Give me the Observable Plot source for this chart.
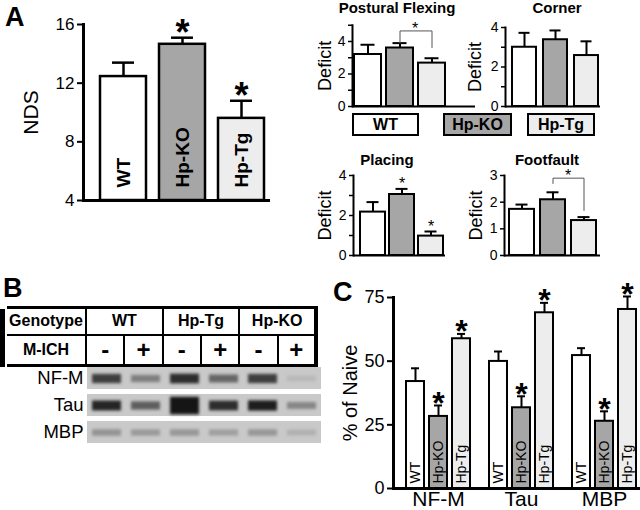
<!DOCTYPE html>
<html><head><meta charset="utf-8">
<script src="https://cdn.jsdelivr.net/npm/d3@7"></script>
<script src="https://cdn.jsdelivr.net/npm/@observablehq/plot@0.6"></script>
<style>
body{margin:0;background:#fff;}
#root{position:relative;width:640px;height:510px;overflow:hidden;font-family:"Liberation Sans",Arial,Helvetica,sans-serif;color:#000;background:#fff;}
#root svg{position:absolute;left:0;top:0;}
#tbl{position:absolute;left:7px;top:306px;width:311px;height:61px;border-collapse:collapse;table-layout:fixed;font-weight:bold;font-size:16px;}
#tbl td{border:2px solid #000;text-align:center;padding:0;}
</style></head><body><div id="root"></div>
<script>
// ---------- data ----------
const genotypes = ["WT", "Hp-KO", "Hp-Tg"];
const genotypeFills = ["#ffffff", "#a6a6a6", "#ededed"];

// Panel A: neurological deficit score
const ndsMean = [12.45, 14.65, 9.6];
const ndsSem = [0.95, 0.45, 1.2];
const ndsSig = [false, true, true];

// Panel A: sub-tests (Deficit)
const posturalMean = [3.2, 3.6, 2.67];
const posturalSem = [0.6, 0.3, 0.3];
const cornerMean = [3.0, 3.38, 2.58];
const cornerSem = [0.73, 0.47, 0.72];
const placingMean = [2.17, 3.05, 0.97];
const placingSem = [0.5, 0.28, 0.23];
const placingSig = [false, true, true];
const footfaultMean = [1.73, 2.09, 1.31];
const footfaultSem = [0.18, 0.28, 0.13];

// Panel B: western blot
const blotGenotypes = ["WT", "Hp-Tg", "Hp-KO"];
const ichStates = ["-", "+", "-", "+", "-", "+"];
const blotProteins = ["NF-M", "Tau", "MBP"];
const blotSignalNFM = [0.85, 0.45, 0.95, 0.6, 0.85, 0.1];
const blotSignalTau = [1.0, 0.65, 1.7, 0.95, 1.05, 0.4];
const blotSignalMBP = [0.32, 0.28, 0.3, 0.25, 0.3, 0.15];

// Panel C: % of naive
const proteins = ["NF-M", "Tau", "MBP"];
const naiveWT = [42, 49.9, 52.2];
const naiveWTSem = [5.2, 3.9, 2.9];
const naiveKO = [28.3, 31.7, 26.4];
const naiveKOSem = [4.3, 4.5, 3.9];
const naiveTg = [58.8, 69, 70.3];
const naiveTgSem = [1.9, 3.9, 5.1];
const naiveSig = [false, true, true];

// ---------- helpers ----------
const root = document.getElementById("root");
const FONT = '"Liberation Sans", Arial, Helvetica, sans-serif';
const baseStyle = {fontFamily: FONT, background: "transparent", overflow: "visible", color: "#000"};
function add(node) { root.appendChild(node); return node; }
function html(tag, text, css) {
  const el = document.createElement(tag);
  el.textContent = text;
  Object.assign(el.style, {position: "absolute", whiteSpace: "nowrap"}, css);
  root.appendChild(el);
  return el;
}
const colorScale = {domain: genotypes, range: genotypeFills};

// ---------- Panel A main ----------
const ndsData = genotypes.map((g, i) => ({g, v: ndsMean[i], e: ndsMean[i] + ndsSem[i], sig: ndsSig[i]}));
add(Plot.plot({
  width: 640, height: 510, marginLeft: 83, marginRight: 370, marginTop: 24, marginBottom: 310,
  style: {...baseStyle, fontSize: "17px"},
  x: {domain: genotypes, range: [86, 277.6], padding: 0.22, axis: null},
  y: {domain: [4, 16], axis: null},
  color: colorScale,
  marks: [
    Plot.barY(ndsData, {x: "g", y1: 4, y2: "v", fill: "g", stroke: "#000", strokeWidth: 2.5}),
    Plot.ruleX(ndsData, {x: "g", y1: "v", y2: "e", strokeWidth: 2.5}),
    Plot.tickY(ndsData, {x: "g", y: "e", strokeWidth: 2.5, insetLeft: 12, insetRight: 12}),
    Plot.text(ndsData, {x: "g", y: 4, text: "g", rotate: -90, textAnchor: "start", dy: -13, fontSize: 19, fontWeight: "bold"}),
    Plot.text(ndsData.filter(d => d.sig), {x: "g", y: "e", text: () => "*", fontSize: 36, fontWeight: "bold", dy: -4}),
    Plot.axisY({ticks: [4, 8, 12, 16], tickSize: 6, tickPadding: 3, strokeWidth: 2, fontSize: 17, label: null}),
    Plot.axisY({ticks: [], label: "NDS", labelAnchor: "center", labelArrow: "none", labelOffset: 60, fontSize: 21}),
    Plot.frame({anchor: "left", strokeWidth: 3}),
    Plot.ruleY([4], {strokeWidth: 3})
  ]
}));
html("div", "A", {left: "5px", top: "2px", fontSize: "27px", fontWeight: "bold"});

// ---------- Panel A small panels ----------
function smallPanel(cfg) {
  const data = genotypes.map((g, i) => ({g, v: cfg.mean[i], e: cfg.mean[i] + cfg.sem[i], sig: cfg.sig ? cfg.sig[i] : false}));
  const ticks = d3.range(0, cfg.max + 1);
  const marks = [
    Plot.barY(data, {x: "g", y: "v", fill: "g", stroke: "#000", strokeWidth: 2}),
    Plot.ruleX(data, {x: "g", y1: "v", y2: "e", strokeWidth: 2}),
    Plot.tickY(data, {x: "g", y: "e", strokeWidth: 2, insetLeft: 6.5, insetRight: 6.5}),
    Plot.axisY({ticks, tickSize: 4, tickPadding: 3, strokeWidth: 1.5, fontSize: 14, label: null,
      tickFormat: d => (d % cfg.labelEvery ? "" : String(d))}),
    Plot.axisY({ticks: [], label: "Deficit", labelAnchor: "center", labelArrow: "none", labelOffset: cfg.labelOffset, fontSize: 18}),
    Plot.frame({anchor: "left", strokeWidth: 2}),
    Plot.ruleY([0], {strokeWidth: 2})
  ];
  if (cfg.sig) marks.push(Plot.text(data.filter(d => d.sig), {x: "g", y: "e", text: () => "*", fontSize: 16, dy: -5}));
  if (cfg.bracket) {
    const b = cfg.bracket;
    marks.push(Plot.line([{g: "Hp-KO", v: b.left}, {g: "Hp-KO", v: b.top}, {g: "Hp-Tg", v: b.top}, {g: "Hp-Tg", v: b.right}],
      {x: "g", y: "v", stroke: "#555", strokeWidth: 1}));
    marks.push(Plot.text([{g: "Hp-KO", v: b.top}], {x: "g", y: "v", text: () => "*", fontSize: 16, dx: b.dx, dy: -2}));
  }
  add(Plot.plot({
    width: 640, height: 510,
    marginLeft: cfg.left, marginRight: 640 - cfg.right, marginTop: cfg.top, marginBottom: 510 - cfg.bottom,
    style: {...baseStyle, fontSize: "14px"},
    x: {domain: genotypes, range: cfg.xr, paddingInner: cfg.pI, paddingOuter: cfg.pO, axis: null},
    y: {domain: [0, cfg.max], axis: null},
    color: colorScale,
    marks
  }));
  html("div", cfg.title, {left: (cfg.titleX - 100) + "px", width: "200px", textAlign: "center", top: cfg.titleTop + "px",
    fontSize: "15px", fontWeight: "bold", lineHeight: "15px"});
}
smallPanel({title: "Postural Flexing", titleX: 397, titleTop: 0, mean: posturalMean, sem: posturalSem,
  left: 352, right: 475, top: 24.75, bottom: 106, max: 5, labelEvery: 2, xr: [352, 448], pI: 0.15, pO: 0.05, labelOffset: 34,
  bracket: {left: 3.9, top: 4.65, right: 3.63, dx: 15}});
smallPanel({title: "Corner", titleX: 557, titleTop: 0, mean: cornerMean, sem: cornerSem,
  left: 505, right: 600, top: 27, bottom: 106, max: 4, labelEvery: 2, xr: [508, 602], pI: 0.22, pO: 0.1, labelOffset: 37});
smallPanel({title: "Placing", titleX: 387, titleTop: 151.5, mean: placingMean, sem: placingSem, sig: placingSig,
  left: 353, right: 445, top: 175, bottom: 255, max: 4, labelEvery: 2, xr: [357.5, 444.3], pI: 0.15, pO: 0.05, labelOffset: 35});
smallPanel({title: "Footfault", titleX: 547, titleTop: 151.5, mean: footfaultMean, sem: footfaultSem,
  left: 504, right: 600, top: 175, bottom: 255, max: 3, labelEvery: 1, xr: [506.4, 598.9], pI: 0.2, pO: 0.05, labelOffset: 35.5,
  bracket: {left: 2.7, top: 2.9, right: 1.69, dx: 15}});

// legend boxes
const boxX = [352, 443, 527];
const boxW = [67, 69, 68];
genotypes.forEach((g, i) => {
  html("div", g, {left: boxX[i] + "px", top: "113px", width: boxW[i] + "px", height: "23px", boxSizing: "border-box",
    border: "2px solid #000", background: genotypeFills[i], textAlign: "center", fontWeight: "bold", fontSize: "16px", lineHeight: "19px"});
});

// ---------- Panel B ----------
html("div", "B", {left: "3px", top: "273px", fontSize: "27px", fontWeight: "bold"});
html("div", "", {left: "0px", top: "309px", width: "5px", height: "58px", background: "#000"});
const tbl = document.createElement("table");
tbl.id = "tbl";
const r1 = tbl.insertRow(), r2 = tbl.insertRow();
r1.style.height = "27px"; r2.style.height = "30px";
const c0 = r1.insertCell(); c0.textContent = "Genotype"; c0.style.width = "78px";
c0.style.borderLeft = "none"; c0.style.borderTop = "3px solid #000";
blotGenotypes.forEach((g, i) => { const c = r1.insertCell(); c.colSpan = 2; c.textContent = g; c.style.borderTop = "3px solid #000"; if (i === 2) c.style.borderRight = "4px solid #000"; });
const c1 = r2.insertCell(); c1.textContent = "M-ICH"; c1.style.borderLeft = "none"; c1.style.borderBottom = "3px solid #000";
ichStates.forEach((s, i) => { const c = r2.insertCell(); c.textContent = s; c.style.fontSize = "24px"; c.style.borderBottom = "3px solid #000"; if (i === 5) c.style.borderRight = "4px solid #000"; });
root.appendChild(tbl);

const laneIds = ichStates.map((s, i) => blotGenotypes[Math.floor(i / 2)] + " " + s + i);
const blotSignals = [blotSignalNFM, blotSignalTau, blotSignalMBP];
const blotCells = [];
blotProteins.forEach((p, j) => laneIds.forEach((lane, i) => blotCells.push({protein: p, lane, signal: blotSignals[j][i]})));
const blot = add(Plot.plot({
  width: 640, height: 510, marginLeft: 86, marginRight: 317, marginTop: 366, marginBottom: 67,
  style: {...baseStyle, fontSize: "18.5px"},
  x: {domain: laneIds, range: [86, 322], padding: 0, axis: null},
  y: {domain: blotProteins, paddingInner: 0.2, paddingOuter: 0, axis: null},
  color: {type: "linear", domain: [0, 1.1], range: ["#c8c8c8", "#151515"], clamp: true},
  marks: [
    Plot.cell(blotCells, {x: "lane", y: "protein", fill: "#c9c9c9"}),
    Plot.tickY(blotCells, {x: "lane", y: "protein", stroke: "signal",
      strokeWidth: d => 5 + 5 * d.signal + 8 * Math.max(0, d.signal - 1.2), insetLeft: 5, insetRight: 5}),
    Plot.axisY({tickSize: 0, tickPadding: 3, fontSize: 18.5, label: null})
  ]
}));
const tg = blot.querySelector('g[aria-label="tick"]');
if (tg) tg.style.filter = "blur(1.6px)";

// ---------- Panel C ----------
html("div", "C", {left: "333px", top: "277px", fontSize: "27px", fontWeight: "bold"});
const naiveMeans = [naiveWT, naiveKO, naiveTg];
const naiveSems = [naiveWTSem, naiveKOSem, naiveTgSem];
const cData = [];
proteins.forEach((p, j) => genotypes.forEach((g, i) => cData.push({p, g, v: naiveMeans[i][j], e: naiveMeans[i][j] + naiveSems[i][j], sig: naiveSig[i]})));
add(Plot.plot({
  width: 640, height: 510, marginLeft: 393, marginRight: 0, marginTop: 297, marginBottom: 22,
  style: {...baseStyle, fontSize: "18px"},
  y: {domain: [0, 75], axis: null},
  marks: [
    Plot.axisY({ticks: [0, 25, 50, 75], tickSize: 6, tickPadding: 3, strokeWidth: 2, fontSize: 18, label: null}),
    Plot.axisY({ticks: [], label: "% of Naive", labelAnchor: "center", labelArrow: "none", labelOffset: 51, fontSize: 20}),
    Plot.frame({anchor: "left", strokeWidth: 3}),
    Plot.ruleY([0], {strokeWidth: 3})
  ]
}));
add(Plot.plot({
  width: 640, height: 510, marginLeft: 393, marginRight: 0, marginTop: 297, marginBottom: 22,
  style: {...baseStyle, fontSize: "21px"},
  fx: {domain: proteins, range: [393, 650], paddingInner: 0.2, paddingOuter: 0.13, label: null},
  x: {domain: genotypes, paddingInner: 0.2, paddingOuter: 0, axis: null},
  y: {domain: [0, 75], axis: null},
  color: colorScale,
  marks: [
    Plot.barY(cData, {fx: "p", x: "g", y: "v", fill: "g", stroke: "#000", strokeWidth: 2}),
    Plot.ruleX(cData, {fx: "p", x: "g", y1: "v", y2: "e", strokeWidth: 2}),
    Plot.tickY(cData, {fx: "p", x: "g", y: "e", strokeWidth: 2, insetLeft: 5, insetRight: 5}),
    Plot.text(cData, {fx: "p", x: "g", y: 0, text: "g", rotate: -90, textAnchor: "start", dy: -5, fontSize: 14}),
    Plot.text(cData.filter(d => d.sig), {fx: "p", x: "g", y: "e", text: () => "*", fontSize: 32, fontWeight: "bold", dy: -2}),
    Plot.axisFx({anchor: "bottom", tickSize: 0, tickPadding: 3, fontSize: 21, label: null})
  ]
}));
</script></body></html>
